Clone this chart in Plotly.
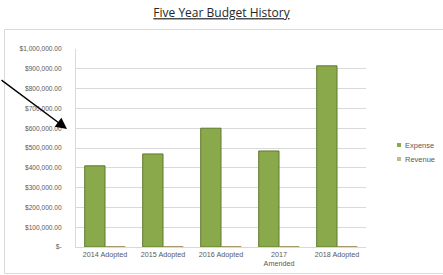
import plotly.graph_objects as go

categories = ["2014 Adopted", "2015 Adopted", "2016 Adopted", "2017<br>Amended", "2018 Adopted"]
expense = [410000, 470000, 600000, 485000, 915000]
revenue = [0, 0, 0, 0, 0]
series_names = ["Expense", "Revenue"]
series_colors = ["#8aa94a", "#c8b98c"]
tick_vals = [0, 100000, 200000, 300000, 400000, 500000, 600000, 700000, 800000, 900000, 1000000]
tick_text = ["$-", "$100,000.00", "$200,000.00", "$300,000.00", "$400,000.00", "$500,000.00",
             "$600,000.00", "$700,000.00", "$800,000.00", "$900,000.00", "$1,000,000.00"]

W, H = 443, 275
L, R, T, B = 76, 77, 49, 28
pw, ph = W - L - R, H - T - B


def px_x(x):
    return (x - L) / pw


def px_y(y):
    return (H - B - y) / ph


fig = go.Figure()
fig.add_trace(go.Bar(name=series_names[0], x=categories, y=expense,
                     marker=dict(color=series_colors[0], line=dict(color="#5f7a2e", width=1))))
fig.add_trace(go.Bar(name=series_names[1], x=categories, y=revenue,
                     marker=dict(color=series_colors[1], line=dict(color="#a89868", width=2))))

shapes = [dict(type="rect", xref="paper", yref="paper", x0=px_x(4.5), x1=px_x(446),
               y0=px_y(273.5), y1=px_y(29.5), line=dict(color="#d9d9d9", width=1))]
annotations = [dict(xref="paper", yref="paper", x=px_x(67), y=px_y(129), text="",
                    showarrow=True, arrowhead=2, arrowsize=1.6, arrowwidth=1.4,
                    arrowcolor="black", axref="pixel", ayref="pixel", ax=-68, ay=-50)]
for i, (name, col) in enumerate(zip(series_names, series_colors)):
    yc = 145 + 14 * i
    shapes.append(dict(type="rect", xref="paper", yref="paper",
                       x0=px_x(397), x1=px_x(401), y0=px_y(yc + 2), y1=px_y(yc - 2),
                       fillcolor=col, line=dict(width=0)))
    annotations.append(dict(xref="paper", yref="paper", x=px_x(403), y=px_y(yc),
                            xanchor="left", yanchor="middle", text=name, showarrow=False,
                            font=dict(size=7.5, color="#595959")))

fig.update_layout(
    width=W, height=H,
    margin=dict(l=L, r=R, t=T, b=B, autoexpand=False),
    paper_bgcolor="white", plot_bgcolor="white",
    font=dict(family="Liberation Sans", size=6.6, color="#595959"),
    title=dict(text="<u>Five Year Budget History</u>", x=0.5, xanchor="center",
               y=1 - 13 / H, yanchor="middle",
               font=dict(family="Open Sans", size=12, color="#262626")),
    barmode="group", bargap=0.3, bargroupgap=0.0,
    showlegend=False,
    xaxis=dict(showgrid=False, showline=True, linecolor="#d9d9d9", ticks="",
               automargin=False, tickfont=dict(size=7.2, color="#595959")),
    yaxis=dict(range=[0, 1000000], tickvals=tick_vals, ticktext=tick_text,
               showgrid=True, gridcolor="#d9d9d9", gridwidth=1, zeroline=False,
               showline=True, linecolor="#d9d9d9", ticks="", ticklabelstandoff=12,
               automargin=False, tickfont=dict(size=6.6, color="#595959")),
    shapes=shapes,
    annotations=annotations,
)

fig.write_html("out.html", config={"displayModeBar": False},
               post_script="document.body.style.margin='0';document.body.style.overflow='hidden';")
